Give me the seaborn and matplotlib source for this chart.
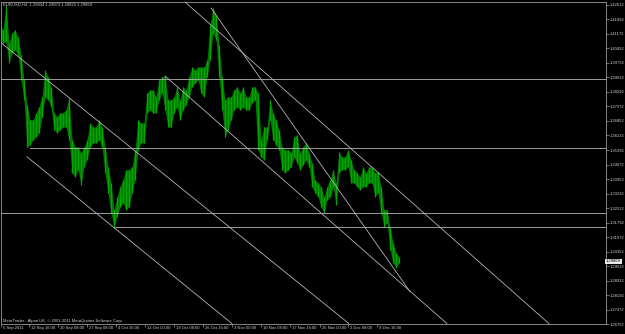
import numpy as np
import pandas as pd
import matplotlib
matplotlib.use("Agg")
import matplotlib.pyplot as plt
from matplotlib.transforms import ScaledTranslation
import seaborn as sns

# ---------------- data ----------------
symbol_title = "EURUSD,H4  1.29834 1.29873 1.29822 1.29869"
copyright_text = "MetaTrader - Alpari UK, \u00a9 2001-2011 MetaQuotes Software Corp."
last_price = 1.29869

# high / low of the price bars (one entry per group of bars, left to right)
bar_high = [1.4162, 1.4137, 1.4261, 1.4073, 1.4122, 1.4137, 1.4102, 1.4013, 1.3889, 1.3765,
            1.3690, 1.3690, 1.3725, 1.3755, 1.3804, 1.3938, 1.3904, 1.3854, 1.3725, 1.3705,
            1.3725, 1.3725, 1.3740, 1.3799, 1.3591, 1.3556, 1.3556, 1.3526, 1.3556, 1.3591,
            1.3675, 1.3655, 1.3655, 1.3690, 1.3655, 1.3556, 1.3457, 1.3377, 1.3243, 1.3308,
            1.3358, 1.3392, 1.3442, 1.3442, 1.3457, 1.3541, 1.3690, 1.3675, 1.3675, 1.3824,
            1.3839, 1.3839, 1.3804, 1.3889, 1.3904, 1.3909, 1.3789, 1.3789, 1.3804, 1.3854,
            1.3789, 1.3854, 1.3839, 1.3904, 1.3953, 1.3938, 1.3953, 1.3953, 1.3953, 1.3988,
            1.4162, 1.4246, 1.4212, 1.4063, 1.3904, 1.3789, 1.3804, 1.3804, 1.3839, 1.3854,
            1.3824, 1.3854, 1.3804, 1.3804, 1.3854, 1.3854, 1.3824, 1.3591, 1.3655, 1.3655,
            1.3789, 1.3725, 1.3690, 1.3640, 1.3556, 1.3541, 1.3541, 1.3526, 1.3606, 1.3616,
            1.3526, 1.3556, 1.3576, 1.3526, 1.3477, 1.3392, 1.3377, 1.3358, 1.3308, 1.3358,
            1.3392, 1.3442, 1.3377, 1.3531, 1.3506, 1.3506, 1.3541, 1.3492, 1.3442, 1.3427,
            1.3407, 1.3457, 1.3427, 1.3457, 1.3457, 1.3427, 1.3432, 1.3358, 1.3243, 1.3243,
            1.3159, 1.3079, 1.3030, 1.3010]
bar_low = [1.4087, 1.4073, 1.4077, 1.3973, 1.4023, 1.4038, 1.4013, 1.3889, 1.3789, 1.3556,
           1.3566, 1.3591, 1.3606, 1.3626, 1.3705, 1.3804, 1.3789, 1.3755, 1.3640, 1.3626,
           1.3640, 1.3655, 1.3655, 1.3591, 1.3427, 1.3407, 1.3442, 1.3367, 1.3457, 1.3492,
           1.3556, 1.3576, 1.3576, 1.3591, 1.3556, 1.3427, 1.3328, 1.3228, 1.3154, 1.3209,
           1.3258, 1.3278, 1.3243, 1.3258, 1.3328, 1.3392, 1.3541, 1.3576, 1.3576, 1.3725,
           1.3740, 1.3725, 1.3725, 1.3789, 1.3824, 1.3740, 1.3655, 1.3655, 1.3725, 1.3755,
           1.3690, 1.3740, 1.3765, 1.3804, 1.3854, 1.3874, 1.3889, 1.3824, 1.3804, 1.3904,
           1.3988, 1.4122, 1.4087, 1.3904, 1.3740, 1.3606, 1.3640, 1.3690, 1.3740, 1.3755,
           1.3740, 1.3755, 1.3740, 1.3740, 1.3775, 1.3789, 1.3541, 1.3506, 1.3492, 1.3591,
           1.3690, 1.3591, 1.3566, 1.3541, 1.3442, 1.3427, 1.3442, 1.3457, 1.3506, 1.3477,
           1.3442, 1.3467, 1.3492, 1.3457, 1.3358, 1.3328, 1.3308, 1.3258, 1.3228, 1.3293,
           1.3308, 1.3358, 1.3268, 1.3427, 1.3442, 1.3442, 1.3457, 1.3377, 1.3377, 1.3358,
           1.3343, 1.3358, 1.3358, 1.3377, 1.3377, 1.3308, 1.3328, 1.3228, 1.3159, 1.3179,
           1.3045, 1.2980, 1.2955, 1.2980]

# horizontal price levels drawn on the chart and the bar group where each begins
level_price = [1.38912, 1.35510, 1.32282, 1.31587]
level_start = [0.0, 10.0, 0.0, 38.3]

# trend lines: start (bar group, price) and end (bar group, price)
trend_x0 = [0.0, 9.0, 61.67, 55.0, 70.33]
trend_p0 = [1.40774, 1.35064, 1.42761, 1.39086, 1.42463]
trend_x1 = [116.33, 77.33, 183.0, 149.0, 136.67]
trend_p1 = [1.26771, 1.26771, 1.26771, 1.26771, 1.28360]

# axis labels
price_ticks = [1.42612, 1.41892, 1.41172, 1.40452, 1.39732, 1.39012, 1.38292, 1.37572,
               1.36852, 1.36132, 1.35392, 1.34672, 1.33952, 1.33232, 1.32512, 1.31792,
               1.31072, 1.30352, 1.29632, 1.28912, 1.28192, 1.27472, 1.26752]
time_tick_pos = [0.33, 9.67, 19.33, 29.0, 38.67, 48.33, 58.0, 67.67, 77.33, 87.0,
                 96.67, 106.67, 116.0, 125.67]
time_tick_labels = ["5 Sep 2011", "12 Sep 16:00", "20 Sep 08:00", "27 Sep 08:00",
                    "4 Oct 16:00", "12 Oct 00:00", "19 Oct 08:00", "26 Oct 16:00",
                    "3 Nov 00:00", "10 Nov 08:00", "17 Nov 16:00", "25 Nov 00:00",
                    "2 Dec 08:00", "9 Dec 16:00"]

# ---------------- style ----------------
sns.set_theme(style="dark", rc={
    "axes.facecolor": "black",
    "figure.facecolor": "black",
    "axes.edgecolor": "#9a9a9a",
    "axes.linewidth": 0.6,
    "xtick.color": "#9a9a9a",
    "ytick.color": "#9a9a9a",
    "text.color": "#d0d0d0",
})
plt.rcParams["font.family"] = ["Liberation Sans", "DejaVu Sans"]

TXT = "#cfcfcf"
LINE = "#b4b4b4"
FS = 3.0

fig = plt.figure(figsize=(6.25, 3.34), dpi=100)
ax = fig.add_axes([1 / 625, 10 / 334, 605 / 625, 322 / 334])
ax.set_facecolor("black")

xmax = 202.0
ymin, ymax = 1.26771, 1.42761

# price bars
n = len(bar_high)
bx = np.arange(n)
ax.fill_between(bx, bar_low, bar_high, color="#007800", lw=0, zorder=2)
ax.vlines(bx, bar_low, bar_high, color="#00a800", lw=0.9, zorder=3)

# objects: trend lines and horizontal levels
rows = []
for i, (x0, p0, x1, p1) in enumerate(zip(trend_x0, trend_p0, trend_x1, trend_p1)):
    rows.append({"x": x0, "price": p0, "obj": f"t{i}"})
    rows.append({"x": x1, "price": p1, "obj": f"t{i}"})
for i, (lp, ls) in enumerate(zip(level_price, level_start)):
    rows.append({"x": ls, "price": lp, "obj": f"h{i}"})
    rows.append({"x": xmax, "price": lp, "obj": f"h{i}"})
objs = pd.DataFrame(rows)
sns.lineplot(data=objs, x="x", y="price", units="obj", estimator=None,
             color=LINE, lw=0.6, ax=ax, legend=False, zorder=4, sort=False)

ax.set_xlim(0.33, xmax)
ax.set_ylim(ymin, ymax)
ax.set_xlabel("")
ax.set_ylabel("")
ax.grid(False)

# right price axis
ax.yaxis.tick_right()
ax.set_yticks(price_ticks)
ax.set_yticklabels([f"{v:.5f}" for v in price_ticks])
ax.tick_params(axis="y", which="major", right=True, left=False, length=2.0,
               width=0.5, pad=0.6, labelsize=FS, labelcolor=TXT, direction="out")

# time axis
ax.set_xticks(time_tick_pos)
ax.set_xticklabels(time_tick_labels)
ax.tick_params(axis="x", which="major", bottom=True, length=2.2, width=0.5,
               pad=-0.6, labelsize=FS, labelcolor=TXT, direction="out")
offset = ScaledTranslation(1.2 / 72, 0, fig.dpi_scale_trans)
for lbl in ax.get_xticklabels():
    lbl.set_horizontalalignment("left")
    lbl.set_transform(lbl.get_transform() + offset)

for s in ax.spines.values():
    s.set_visible(True)
    s.set_color("#9a9a9a")
    s.set_linewidth(0.6)

# texts
ax.text(0.004, 0.991, symbol_title, transform=ax.transAxes, fontsize=FS,
        color=TXT, ha="left", va="center", zorder=6)
ax.text(0.004, 0.010, copyright_text, transform=ax.transAxes, fontsize=FS,
        color=TXT, ha="left", va="center", zorder=6)
ax.text(1.0, last_price, f"{last_price:.5f}", transform=ax.get_yaxis_transform(),
        fontsize=FS, color="black", ha="left", va="center", zorder=7, clip_on=False,
        bbox=dict(boxstyle="square,pad=0.15", fc="#e8e8e8", ec="none"))

fig.savefig("out.png", dpi=100, facecolor="black")
